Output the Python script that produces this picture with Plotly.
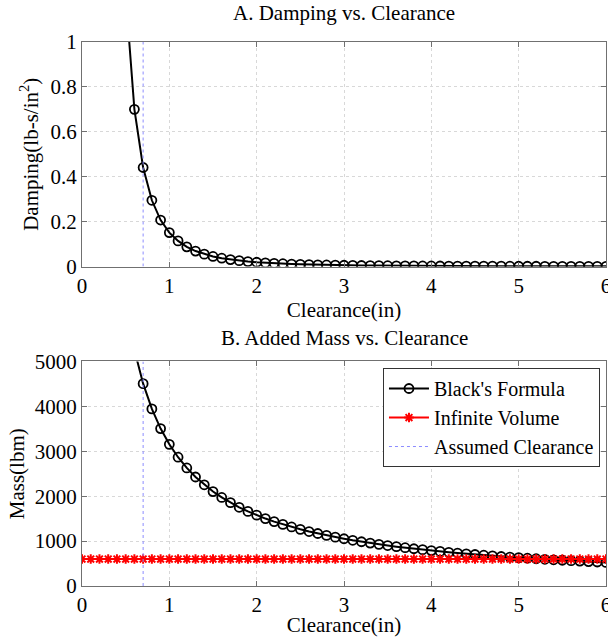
import plotly.graph_objects as go
from plotly.subplots import make_subplots

# clearance values (in), step 0.1
clearance = [0.5, 0.6, 0.7, 0.8, 0.9, 1.0, 1.1, 1.2, 1.3, 1.4, 1.5, 1.6, 1.7, 1.8, 1.9,
             2.0, 2.1, 2.2, 2.3, 2.4, 2.5, 2.6, 2.7, 2.8, 2.9, 3.0, 3.1, 3.2, 3.3, 3.4,
             3.5, 3.6, 3.7, 3.8, 3.9, 4.0, 4.1, 4.2, 4.3, 4.4, 4.5, 4.6, 4.7, 4.8, 4.9,
             5.0, 5.1, 5.2, 5.3, 5.4, 5.5, 5.6, 5.7, 5.8, 5.9, 6.0]

damping = [1.21, 0.70, 0.441, 0.295, 0.207, 0.151, 0.114, 0.0875, 0.0688, 0.0551,
           0.0448, 0.0369, 0.0308, 0.0259, 0.0220, 0.0189, 0.0163, 0.0142, 0.0124,
           0.0109, 0.0097, 0.0086, 0.0077, 0.0069, 0.0062, 0.0056, 0.0051, 0.0046,
           0.0042, 0.0038, 0.0035, 0.0032, 0.0030, 0.0028, 0.0025, 0.0024, 0.0022,
           0.0020, 0.0019, 0.0018, 0.0017, 0.0016, 0.0015, 0.0014, 0.0013, 0.0012,
           0.0011, 0.0011, 0.0010, 0.0010, 0.0009, 0.0009, 0.0008, 0.0008, 0.0007,
           0.0007]

mass_black = [6310, 5258, 4507, 3944, 3506, 3155, 2868, 2629, 2427, 2254, 2103, 1972,
              1856, 1753, 1661, 1578, 1502, 1434, 1372, 1315, 1262, 1213, 1169, 1127,
              1088, 1052, 1018, 986, 956, 928, 901, 876, 853, 830, 809, 789, 770, 751,
              734, 717, 701, 686, 671, 657, 644, 631, 619, 607, 595, 584, 574, 563,
              554, 544, 535, 526]

clearance_inf = [0.0, 0.1, 0.2, 0.3, 0.4, 0.5, 0.6, 0.7, 0.8, 0.9, 1.0, 1.1, 1.2, 1.3,
                 1.4, 1.5, 1.6, 1.7, 1.8, 1.9, 2.0, 2.1, 2.2, 2.3, 2.4, 2.5, 2.6, 2.7,
                 2.8, 2.9, 3.0, 3.1, 3.2, 3.3, 3.4, 3.5, 3.6, 3.7, 3.8, 3.9, 4.0, 4.1,
                 4.2, 4.3, 4.4, 4.5, 4.6, 4.7, 4.8, 4.9, 5.0, 5.1, 5.2, 5.3, 5.4, 5.5,
                 5.6, 5.7, 5.8, 5.9, 6.0]
mass_inf = [600, 600, 600, 600, 600, 600, 600, 600, 600, 600, 600, 600, 600, 600, 600,
            600, 600, 600, 600, 600, 600, 600, 600, 600, 600, 600, 600, 600, 600, 600,
            600, 600, 600, 600, 600, 600, 600, 600, 600, 600, 600, 600, 600, 600, 600,
            600, 600, 600, 600, 600, 600, 600, 600, 600, 600, 600, 600, 600, 600, 600,
            600]

assumed_clearance = 0.7

FONT = "Times New Roman, Liberation Serif, serif"
FS = 21
BLUE = "rgb(140,140,255)"

fig = make_subplots(rows=2, cols=1, vertical_spacing=0.1746)

fig.add_trace(go.Scatter(
    x=clearance, y=damping, mode="lines+markers", name="Black's Formula",
    line=dict(color="black", width=2),
    marker=dict(symbol="circle-open", size=9, color="black", line=dict(width=1.8)),
    showlegend=False), row=1, col=1)
fig.add_trace(go.Scatter(
    x=[assumed_clearance, assumed_clearance], y=[0, 1], mode="lines",
    line=dict(color=BLUE, width=1, dash="dot"), showlegend=False),
    row=1, col=1)

fig.add_trace(go.Scatter(
    x=clearance, y=mass_black, mode="lines+markers", name="Black's Formula",
    line=dict(color="black", width=2),
    marker=dict(symbol="circle-open", size=9, color="black", line=dict(width=1.8))),
    row=2, col=1)
fig.add_trace(go.Scatter(
    x=clearance_inf, y=mass_inf, mode="lines+markers", name="Infinite Volume",
    line=dict(color="red", width=2),
    marker=dict(symbol="asterisk-open", size=8, color="red", line=dict(width=2, color="red"))),
    row=2, col=1)
fig.add_trace(go.Scatter(
    x=[assumed_clearance, assumed_clearance], y=[0, 5000], mode="lines",
    name="Assumed Clearance",
    line=dict(color=BLUE, width=1, dash="dot")),
    row=2, col=1)

axis_style = dict(
    showline=True, linecolor="#707070", linewidth=1, mirror="ticks",
    ticks="inside", ticklen=5, tickcolor="#707070",
    showgrid=True, gridcolor="#d8d8d8", griddash="dot", gridwidth=1,
    zeroline=False, automargin=False, ticklabeloverflow="allow",
    tickfont=dict(family=FONT, size=FS, color="black"),
)

fig.update_xaxes(axis_style)
fig.update_yaxes(axis_style)

title_font = dict(family=FONT, size=FS, color="black")
fig.update_xaxes(range=[0, 6], dtick=1, title=dict(text="Clearance(in)", standoff=2,
                 font=title_font), row=1, col=1)
fig.update_xaxes(range=[0, 6], dtick=1, title=dict(text="Clearance(in)", standoff=2,
                 font=title_font), row=2, col=1)
fig.update_yaxes(range=[0, 1], dtick=0.2, title=dict(text="Damping(lb-s/in<sup>2</sup>)",
                 standoff=6, font=title_font), row=1, col=1)
fig.update_yaxes(range=[0, 5000], dtick=1000, title=dict(text="Mass(lbm)", standoff=4,
                 font=title_font), row=2, col=1)

fig.add_annotation(text="A. Damping vs. Clearance", xref="paper", yref="paper",
                   x=0.5, y=1.0, yshift=15, showarrow=False, yanchor="bottom",
                   font=title_font)
fig.add_annotation(text="B. Added Mass vs. Clearance", xref="paper", yref="paper",
                   x=0.5, y=0.4127, yshift=9, showarrow=False, yanchor="bottom",
                   font=title_font)

fig.update_layout(
    width=608, height=637,
    margin=dict(l=82, r=2, t=42, b=51),
    paper_bgcolor="white", plot_bgcolor="white",
    font=dict(family=FONT, size=FS, color="black"),
    legend=dict(x=0.9885, y=0.4007, xanchor="right", yanchor="top",
                bordercolor="#333", borderwidth=1, bgcolor="white",
                font=dict(family=FONT, size=20, color="black"),
                tracegroupgap=0, itemwidth=40),
)

# drop the default page margin so the figure sits at the window's corner
fig.write_html("out.html", config={"displayModeBar": False},
               post_script="document.body.style.margin='0px';")
